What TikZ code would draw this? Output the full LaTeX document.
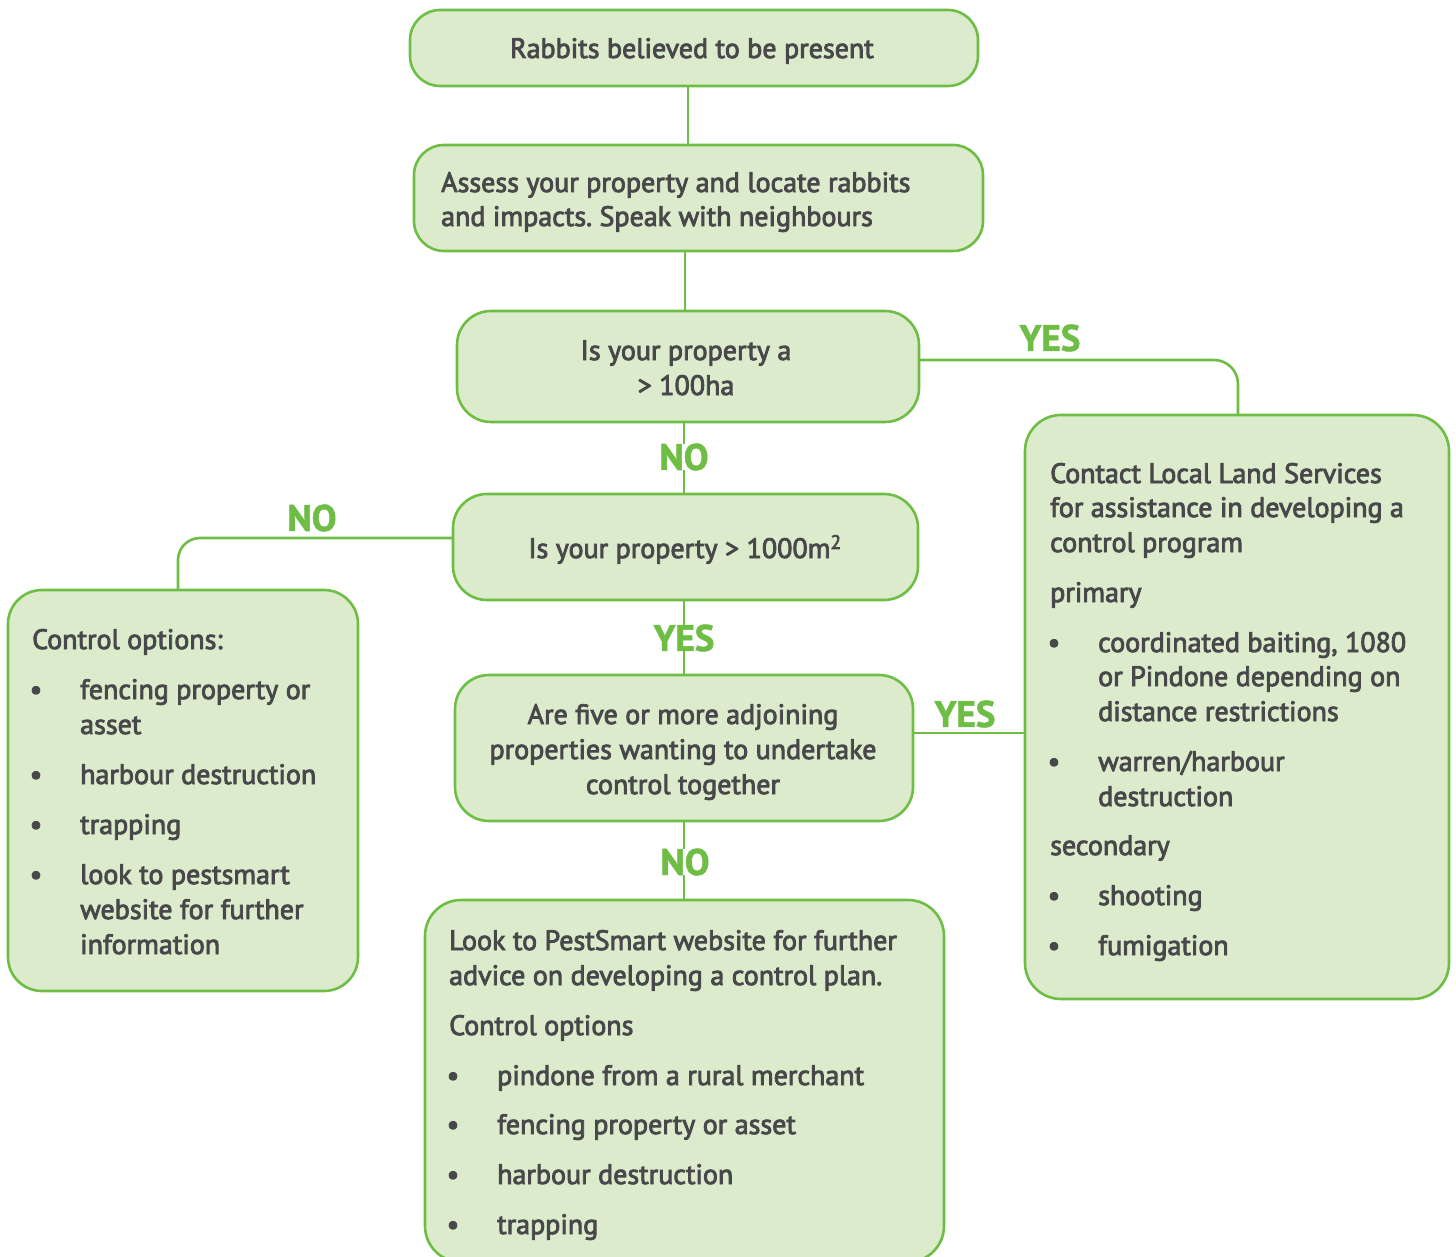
\documentclass[tikz,border=0pt]{standalone}
\usepackage{fontspec}
\setmainfont{PT Sans}[FakeBold=3.0]
\newfontfamily\lblfont{PT Sans Bold}[FakeBold=1.5]
\usetikzlibrary{calc}
\frenchspacing
\definecolor{lgreen}{RGB}{110,190,70}
\definecolor{lfill}{RGB}{219,235,204}
\definecolor{tgray}{RGB}{72,72,74}
\tikzset{
  box/.style={draw=lgreen, fill=lfill, line width=2.6pt, rounded corners=30pt, inner sep=0pt, outer sep=0pt},
  conn/.style={draw=lgreen, line width=2.6pt},
  txt/.style={text=tgray, font=\fontsize{28}{35}\selectfont, inner sep=0pt},
  lbl/.style={text=lgreen, font=\lblfont\fontsize{37}{40}\selectfont, inner sep=2pt},
}
\newcommand\txtL[4]{\node[txt,anchor=base west] (#1) at (#2,#3) {#4};}
\newcommand\txtC[4]{\node[txt,anchor=base] (#1) at (#2,#3) {#4};}
\newcommand\bul[3]{\node[txt,anchor=base] (#1) at (#2,#3) {•};}
\begin{document}
\begin{tikzpicture}[x=1pt,y=-1pt]
\useasboundingbox (0,0) rectangle (1456,1257);
\clip (0,0) rectangle (1456,1257);
% boxes
\node[box, minimum width=568pt, minimum height=76pt] (b1) at (694,48) {};
\node[box, minimum width=569pt, minimum height=106pt] (b2) at (698.5,198) {};
\node[box, minimum width=462pt, minimum height=111pt, rounded corners=34pt] (b3) at (688,366.5) {};
\node[box, minimum width=465pt, minimum height=106pt, rounded corners=34pt] (b4) at (685.5,547) {};
\node[box, minimum width=458pt, minimum height=146pt, rounded corners=34pt] (b5) at (684,748) {};
\node[box, minimum width=350pt, minimum height=401pt, rounded corners=34pt] (bl) at (183,790.5) {};
\node[box, minimum width=424pt, minimum height=584pt, rounded corners=36pt] (br) at (1237,707) {};
\node[box, minimum width=519pt, minimum height=362pt, rounded corners=36pt] (bb) at (684.5,1081) {};
% connectors
\coordinate (cy) at (0,360);
\coordinate (cn) at (0,538);
\coordinate (cy2) at (0,733);
\draw[conn] ([xshift=-6pt]b1.south) -- ([xshift=-6pt]b1.south |- b2.north);
\draw[conn] ([xshift=-13.5pt]b2.south) -- ([xshift=-13.5pt]b2.south |- b3.north);
\draw[conn] ([xshift=-4pt]b3.south) -- ([xshift=-4pt]b3.south |- b4.north);
\draw[conn] ([xshift=-1.5pt]b4.south) -- ([xshift=-1.5pt]b4.south |- b5.north);
\draw[conn] (b5.south) -- (b5.south |- bb.north);
\draw[conn, rounded corners=24pt] (b3.east |- cy) -| ([xshift=1pt]br.north);
\draw[conn, rounded corners=22pt] (b4.west |- cn) -| ([xshift=-5pt]bl.north);
\draw[conn] (b5.east |- cy2) -- (br.west |- cy2);
% labels
\node[lbl] (l1) at (1050,338) {YES};
\node[lbl, fill=white, inner xsep=1pt, inner ysep=0pt] (l2) at (684,457) {NO};
\node[lbl] (l3) at (312,518) {NO};
\node[lbl, fill=white, inner xsep=1pt, inner ysep=0pt] (l4) at (684,638) {YES};
\node[lbl] (l5) at (965,714) {YES};
\node[lbl, fill=white, inner xsep=1pt, inner ysep=0pt] (l6) at (685,862) {NO};
% texts
\txtC{t1}{692}{58}{Rabbits believed to be present}
\txtL{t2a}{441}{192}{Assess your property and locate rabbits}
\txtL{t2b}{441}{226}{and impacts. Speak with neighbours}
\txtC{t3a}{686}{360}{Is your property a}
\txtC{t3b}{686}{395}{> 100ha}
\txtC{t4}{685}{558}{Is your property > 1000m\textsuperscript{2}}
\txtC{t5a}{683}{724}{Are five or more adjoining}
\txtC{t5b}{683}{759}{properties wanting to undertake}
\txtC{t5c}{683}{794}{control together}
% left box
\txtL{la}{32}{649}{Control options:}
\bul{lb1}{36}{699}\txtL{lt1}{80}{699}{fencing property or}
\txtL{lt1b}{80}{734}{asset}
\bul{lb2}{36}{784}\txtL{lt2}{80}{784}{harbour destruction}
\bul{lb3}{36}{834}\txtL{lt3}{80}{834}{trapping}
\bul{lb4}{36}{884}\txtL{lt4}{80}{884}{look to pestsmart}
\txtL{lt4b}{80}{919}{website for further}
\txtL{lt4c}{80}{954}{information}
% right box
\txtL{ra}{1050}{483}{Contact Local Land Services}
\txtL{rb}{1050}{517}{for assistance in developing a}
\txtL{rc}{1050}{552}{control program}
\txtL{rd}{1050}{602}{primary}
\bul{rb1}{1054}{652}\txtL{rt1}{1098}{652}{coordinated baiting, 1080}
\txtL{rt1b}{1098}{686}{or Pindone depending on}
\txtL{rt1c}{1098}{721}{distance restrictions}
\bul{rb2}{1054}{771}\txtL{rt2}{1098}{771}{warren/harbour}
\txtL{rt2b}{1098}{806}{destruction}
\txtL{re}{1050}{855}{secondary}
\bul{rb3}{1054}{905}\txtL{rt3}{1098}{905}{shooting}
\bul{rb4}{1054}{955}\txtL{rt4}{1098}{955}{fumigation}
% bottom box
\txtL{ba}{449}{950}{Look to PestSmart website for further}
\txtL{bbb}{449}{985}{advice on developing a control plan.}
\txtL{bc}{449}{1035}{Control options}
\bul{bb1}{453}{1085}\txtL{bt1}{497}{1085}{pindone from a rural merchant}
\bul{bb2}{453}{1134}\txtL{bt2}{497}{1134}{fencing property or asset}
\bul{bb3}{453}{1184}\txtL{bt3}{497}{1184}{harbour destruction}
\bul{bb4}{453}{1234}\txtL{bt4}{497}{1234}{trapping}
\end{tikzpicture}
\end{document}
